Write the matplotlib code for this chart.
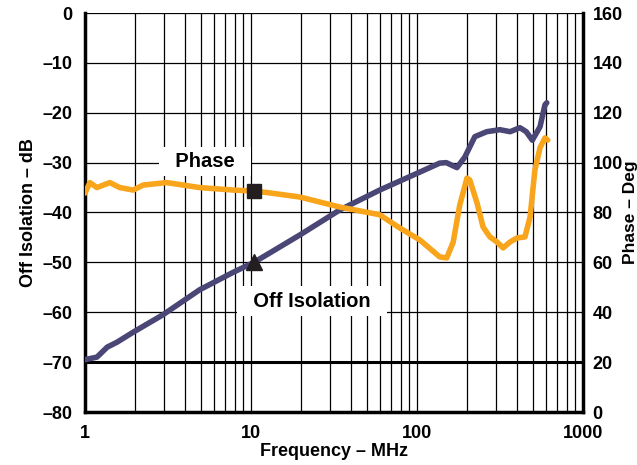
import numpy as np
import matplotlib
import matplotlib.pyplot as plt
from matplotlib.ticker import LogLocator, FixedLocator, NullFormatter, FixedFormatter

# off isolation curve (dB) vs frequency (MHz)
iso_freq = [1.0, 1.18, 1.36, 1.56, 1.95, 2.95, 4.9, 7.8, 10.4, 12.4, 19.7,
            34.2, 59.6, 104, 137, 150, 174, 194, 223, 263, 316, 364, 417,
            455, 495, 551, 590, 605]
iso_db = [-69.5, -69, -67, -66, -64, -60.5, -55.5, -52, -50, -48.5, -44.5,
          -39.5, -35.5, -31.9, -30.1, -30, -31, -28.9, -24.8, -23.8, -23.4,
          -23.8, -23, -23.8, -25.5, -22.8, -18.4, -18]

# phase curve (deg) vs frequency (MHz)
ph_freq = [1.0, 1.07, 1.18, 1.41, 1.62, 1.95, 2.24, 3.1, 4.9, 7.8, 10.4,
           12.5, 19.7, 34.2, 59.6, 78.7, 104, 137, 151, 165, 181, 200, 208,
           230, 250, 275, 303, 330, 364, 400, 447, 480, 513, 551, 590, 613]
ph_deg = [87.8, 92, 90, 92, 90, 89, 91, 92, 90, 89, 88.6,
          88, 86.2, 82.2, 79.1, 73.8, 69, 62.2, 61.8, 68, 83, 93.8, 93,
          83.8, 74.2, 70.2, 68.2, 65.8, 68.2, 69.8, 70.2, 78.2, 97, 106,
          109.9, 109]

db_ticks = [-80, -70, -60, -50, -40, -30, -20, -10, 0]
deg_ticks = [0, 20, 40, 60, 80, 100, 120, 140, 160]
freq_ticks = [1, 10, 100, 1000]
freq_labels = ['1', '10', '100', '1000']

# marker points on each curve
mark_freq = 10.4
mark_db = -50
mark_deg = 88.6

NAVY = '#4a4776'
ORANGE = '#f9a51b'

matplotlib.rc('font', family='Liberation Sans', weight='bold', size=13)
matplotlib.rc('axes', labelweight='bold')

fig = plt.figure(figsize=(6.37, 4.65), dpi=100)
ax = fig.add_axes([85/637, 1 - 412/465, 498/637, 399/465])
ax.set_xscale('log')
ax.set_xlim(1, 1000)
ax.set_ylim(-80, 0)

ax.xaxis.set_major_locator(FixedLocator(freq_ticks))
ax.xaxis.set_major_formatter(FixedFormatter(freq_labels))
ax.xaxis.set_minor_locator(LogLocator(base=10, subs=range(2, 10)))
ax.xaxis.set_minor_formatter(NullFormatter())
ax.set_yticks(db_ticks)
ax.set_yticklabels([f'\u2013{-v}' if v < 0 else str(v) for v in db_ticks])
ax.tick_params(which='both', length=0, pad=9)
ax.grid(True, which='both', color='black', lw=0.9)
ax.axhline(-70, color='black', lw=2.2, zorder=1.5)

ax.plot(iso_freq, iso_db, color=NAVY, lw=4, solid_capstyle='round', zorder=3)
ax.plot([mark_freq], [mark_db], marker='^', ms=11, color='#231f20', zorder=4)

ax.set_xlabel('Frequency \u2013 MHz', labelpad=1)
ax.set_ylabel('Off Isolation \u2013 dB', labelpad=4)

for side in ['left', 'bottom']:
    ax.spines[side].set_linewidth(2.5)
ax.spines['top'].set_visible(False)
ax.spines['right'].set_visible(False)

ax2 = ax.twinx()
ax2.set_ylim(0, 160)
ax2.set_yticks(deg_ticks)
ax2.tick_params(length=0, pad=7)
ax2.plot(ph_freq, ph_deg, color=ORANGE, lw=4, solid_capstyle='round', zorder=3)
ax2.plot([mark_freq], [mark_deg], marker='s', ms=10, color='#231f20', zorder=4)
ax2.set_ylabel('Phase \u2013 Deg', labelpad=0, fontsize=12.5)
ax2.spines['right'].set_linewidth(2.5)
for side in ['top', 'left', 'bottom']:
    ax2.spines[side].set_visible(False)

box = dict(boxstyle='square,pad=0.25', facecolor='white', edgecolor='none')
ax2.text(5.3, 100.5, '  Phase  ', ha='center', va='center', fontsize=14.5,
         bbox=box, zorder=5)
ax2.text(23.3, 44.5, '  Off Isolation  ', ha='center', va='center',
         fontsize=14.5, bbox=box, zorder=5)

plt.savefig('out.png', dpi=100)
